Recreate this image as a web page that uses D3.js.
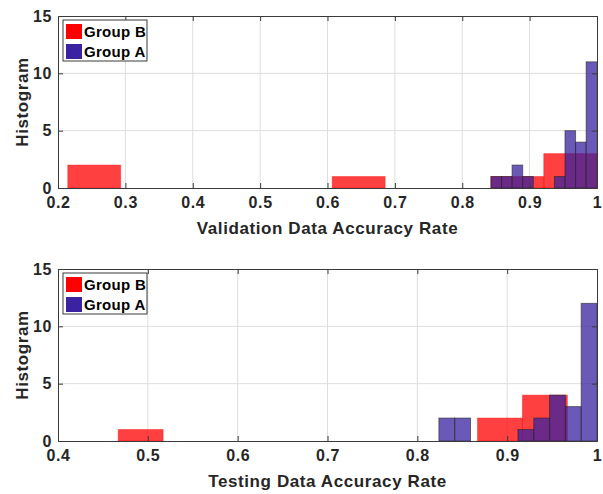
<!DOCTYPE html>
<html>
<head>
<meta charset="utf-8">
<script src="https://cdn.jsdelivr.net/npm/d3@7"></script>
<style>
  html, body { margin: 0; padding: 0; background: #fff; }
  svg { display: block; font-family: "Liberation Sans", Arial, Helvetica, sans-serif; }
  .tick-text { font-size: 16px; font-weight: bold; fill: #262626; letter-spacing: 0.6px; }
  .axis-label { font-size: 17px; font-weight: bold; fill: #262626; letter-spacing: 0.6px; }
  .legend-text { font-size: 15px; font-weight: bold; fill: #000; letter-spacing: 0.3px; }
</style>
</head>
<body>
<svg id="chart" width="603" height="494"></svg>
<script>
// ── DATA (bin edges + counts) ──────────────────────────────────────────────
const valB_edges  = [0.2145, 0.293, 0.3715, 0.45, 0.5285, 0.607, 0.6855, 0.764, 0.8425, 0.921, 0.9995];
const valB_counts = [2, 0, 0, 0, 0, 1, 0, 0, 1, 3];
const valA_edges  = [0.8426, 0.8583, 0.874, 0.8897, 0.9054, 0.9211, 0.9368, 0.9525, 0.9682, 0.9839, 0.9996];
const valA_counts = [1, 1, 2, 1, 0, 0, 1, 5, 4, 11];

const testB_edges  = [0.467, 0.517, 0.567, 0.617, 0.667, 0.717, 0.767, 0.817, 0.867, 0.917, 0.967];
const testB_counts = [1, 0, 0, 0, 0, 0, 0, 0, 2, 4];
const testA_edges  = [0.824, 0.8416, 0.8592, 0.8768, 0.8944, 0.912, 0.9296, 0.9472, 0.9648, 0.9824, 1.0];
const testA_counts = [2, 2, 0, 0, 0, 1, 2, 4, 3, 12];

const valTicks  = [0.2, 0.3, 0.4, 0.5, 0.6, 0.7, 0.8, 0.9, 1];
const testTicks = [0.4, 0.5, 0.6, 0.7, 0.8, 0.9, 1];
const yTicks = [0, 5, 10, 15];
const groups = ['Group B', 'Group A'];

const colB = '#ff0000', colA = '#3a22a0';
const svg = d3.select('#chart');

function toBins(edges, counts) {
  return counts.map((c, i) => ({ x0: edges[i], x1: edges[i + 1], n: c }));
}

function drawPanel(top, xDomain, xTicks, xTitle, binsB, binsA) {
  const left = 58, right = 597, bottom = top + 172;
  const x = d3.scaleLinear().domain(xDomain).range([left, right]);
  const y = d3.scaleLinear().domain([0, 15]).range([bottom, top]);
  const g = svg.append('g');

  // grid
  g.append('g').selectAll('line')
    .data(xTicks.slice(1, -1))
    .join('line')
    .attr('x1', d => x(d)).attr('x2', d => x(d))
    .attr('y1', top).attr('y2', bottom)
    .attr('stroke', '#dedede').attr('stroke-width', 1);
  g.append('g').selectAll('line')
    .data(yTicks.slice(1, -1))
    .join('line')
    .attr('x1', left).attr('x2', right)
    .attr('y1', d => y(d)).attr('y2', d => y(d))
    .attr('stroke', '#dedede').attr('stroke-width', 1);

  // bars: group B first, group A on top
  g.append('g').selectAll('rect')
    .data(binsB.filter(d => d.n > 0))
    .join('rect')
    .attr('x', d => x(d.x0)).attr('width', d => x(d.x1) - x(d.x0))
    .attr('y', d => y(d.n)).attr('height', d => y(0) - y(d.n))
    .attr('fill', colB).attr('fill-opacity', 0.75)
    .attr('stroke', colB).attr('stroke-opacity', 0.4).attr('stroke-width', 1);
  g.append('g').selectAll('rect')
    .data(binsA.filter(d => d.n > 0))
    .join('rect')
    .attr('x', d => x(d.x0)).attr('width', d => x(d.x1) - x(d.x0))
    .attr('y', d => y(d.n)).attr('height', d => y(0) - y(d.n))
    .attr('fill', colA).attr('fill-opacity', 0.75)
    .attr('stroke', '#262626').attr('stroke-opacity', 0.6).attr('stroke-width', 1);

  // axes (ticks inward, mirrored on top/right)
  const fmt = d => d === 1 ? '1' : d3.format('.1f')(d);
  const xb = g.append('g').attr('transform', `translate(0,${bottom})`)
    .call(d3.axisBottom(x).tickValues(xTicks).tickFormat(fmt).tickSize(-5).tickPadding(9));
  const xt = g.append('g').attr('transform', `translate(0,${top})`)
    .call(d3.axisTop(x).tickValues(xTicks).tickFormat('').tickSize(-5));
  const yl = g.append('g').attr('transform', `translate(${left},0)`)
    .call(d3.axisLeft(y).tickValues(yTicks).tickSize(-5).tickPadding(6));
  const yr = g.append('g').attr('transform', `translate(${right},0)`)
    .call(d3.axisRight(y).tickValues(yTicks).tickFormat('').tickSize(-5));
  [xb, xt, yl, yr].forEach(a => {
    a.select('.domain').attr('stroke', '#3a3a3a').attr('stroke-width', 1);
    a.selectAll('.tick line').attr('stroke', '#3a3a3a');
    a.selectAll('text').attr('class', 'tick-text').attr('fill', null);
  });

  // axis titles
  g.append('text').attr('class', 'axis-label')
    .attr('x', (left + right) / 2).attr('y', bottom + 46)
    .attr('text-anchor', 'middle').text(xTitle);
  g.append('text').attr('class', 'axis-label')
    .attr('transform', `translate(28,${(top + bottom) / 2}) rotate(-90)`)
    .attr('text-anchor', 'middle').text('Histogram');

  // legend
  const lg = g.append('g').attr('transform', `translate(63,${top + 4})`);
  lg.append('rect').attr('x', 0).attr('y', 0).attr('width', 84).attr('height', 41)
    .attr('fill', '#fff').attr('stroke', '#3a3a3a').attr('stroke-width', 1);
  groups.forEach((name, i) => {
    lg.append('rect').attr('x', 3).attr('y', 4 + i * 20).attr('width', 16).attr('height', 15)
      .attr('fill', i === 0 ? colB : colA);
    lg.append('text').attr('class', 'legend-text')
      .attr('x', 21).attr('y', 17 + i * 20).text(name);
  });
}

drawPanel(16, [0.2, 1], valTicks, 'Validation Data Accuracy Rate',
  toBins(valB_edges, valB_counts), toBins(valA_edges, valA_counts));
drawPanel(269, [0.4, 1], testTicks, 'Testing Data Accuracy Rate',
  toBins(testB_edges, testB_counts), toBins(testA_edges, testA_counts));
</script>
</body>
</html>
